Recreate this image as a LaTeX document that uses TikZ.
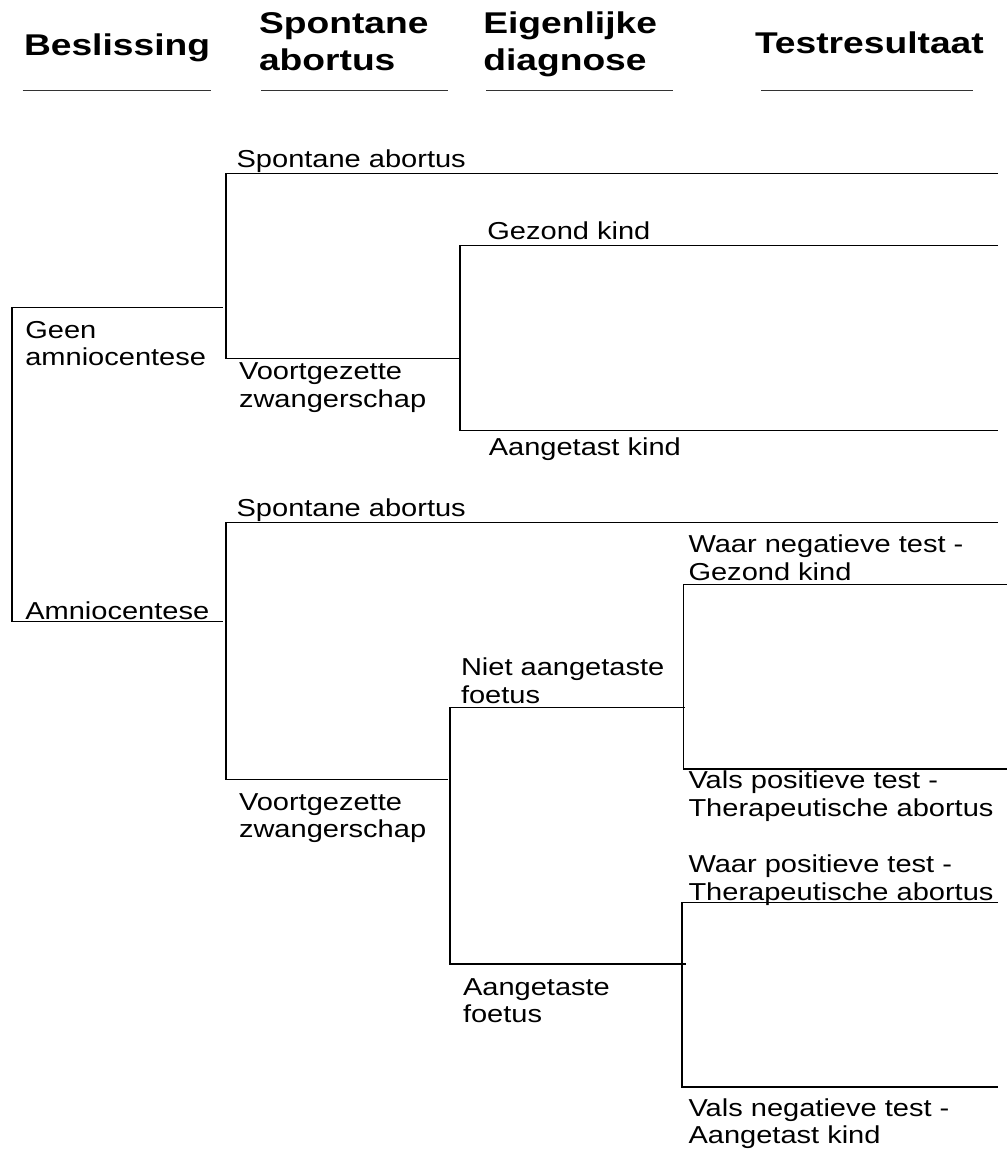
\documentclass[tikz,border=0pt]{standalone}
\usepackage{fontspec}
\newfontfamily\bodyfont[FakeStretch=1.185]{Liberation Sans}
\newfontfamily\headfont[FakeStretch=1.24]{Liberation Sans}
\newcommand\twoline[2]{\vtop{\hbox{#1}\hbox{#2}}}
\begin{document}
\begin{tikzpicture}[x=1pt,y=-1pt,
  txt/.style={anchor=base west, inner sep=0pt, outer sep=0pt, font=\bodyfont\fontsize{24.5}{27.8}\selectfont},
  head/.style={anchor=base west, inner sep=0pt, outer sep=0pt, font=\headfont\bfseries\fontsize{30}{37.4}\selectfont},
  branch/.style={line width=1.1pt, black},
  rule/.style={line width=1.1pt, black!80}]
\useasboundingbox[fill=white] (0,0) rectangle (1007,1149);

% headers
\node[head] (hBes) at (24,55) {Beslissing};
\node[head] (hSpo) at (259,33.3) {\twoline{Spontane}{abortus}};
\node[head] (hEig) at (483.3,33.3) {\twoline{Eigenlijke}{diagnose}};
\node[head] (hTes) at (755,53.3) {Testresultaat};
\coordinate (u1a) at (22.7,90.7); \coordinate (u1b) at (210.7,90.7);
\coordinate (u2a) at (261,90.7);  \coordinate (u2b) at (448.3,90.7);
\coordinate (u3a) at (486,90.7);  \coordinate (u3b) at (673,90.7);
\coordinate (u4a) at (761,90.7);  \coordinate (u4b) at (973,90.7);
\draw[rule] (u1a) -- (u1b);
\draw[rule] (u2a) -- (u2b);
\draw[rule] (u3a) -- (u3b);
\draw[rule] (u4a) -- (u4b);

% tree points
\coordinate (rootT) at (12,307.3);   \coordinate (rootB) at (12,621.7);
\coordinate (geenE) at (222.5,307.3); \coordinate (amnE) at (222.5,621.7);

\coordinate (c1T) at (226,173.7); \coordinate (c1B) at (226,358.7);
\coordinate (c1Te) at (998,173.7); \coordinate (c1Be) at (460,358.7);

\coordinate (c2T) at (460,245.7); \coordinate (c2B) at (460,430.3);
\coordinate (c2Te) at (998,245.7); \coordinate (c2Be) at (998,430.3);

\coordinate (c3T) at (226,522.5); \coordinate (c3B) at (226,779.3);
\coordinate (c3Te) at (998,522.5); \coordinate (c3Be) at (448,779.3);

\coordinate (c4T) at (450,707.7); \coordinate (c4B) at (450,964);
\coordinate (c4Te) at (684.5,707.7); \coordinate (c4Be) at (685.5,964);

\coordinate (c5T) at (683.3,584.3); \coordinate (c5B) at (683.3,769);
\coordinate (c5Te) at (1007,584.3); \coordinate (c5Be) at (1007,769);

\coordinate (c6T) at (682,902.7); \coordinate (c6B) at (682,1087);
\coordinate (c6Te) at (998,902.7); \coordinate (c6Be) at (998,1087);

\draw[branch] (geenE) -- (rootT) -- (rootB) -- (amnE);
\draw[branch] (c1Te) -- (c1T) -- (c1B) -- (c1Be);
\draw[branch] (c2Te) -- (c2T) -- (c2B) -- (c2Be);
\draw[branch] (c3Te) -- (c3T) -- (c3B) -- (c3Be);
\draw[branch] (c4Te) -- (c4T) -- (c4B) -- (c4Be);
\draw[branch] (c5Te) -- (c5T) -- (c5B) -- (c5Be);
\draw[branch] (c6Te) -- (c6T) -- (c6B) -- (c6Be);

% labels
\node[txt] (tGeen) at (25.3,338) {\twoline{Geen}{amniocentese}};
\node[txt] (tAmn) at (25.3,619.3) {Amniocentese};
\node[txt] (tSp1) at (236.6,167.7) {Spontane abortus};
\node[txt] (tVz1) at (239,379.3) {\twoline{Voortgezette}{zwangerschap}};
\node[txt] (tGez) at (487.4,239) {Gezond kind};
\node[txt] (tAan) at (488.8,455) {Aangetast kind};
\node[txt] (tSp2) at (236.6,516) {Spontane abortus};
\node[txt] (tVz2) at (239,810) {\twoline{Voortgezette}{zwangerschap}};
\node[txt] (tNiet) at (461,675.7) {\twoline{Niet aangetaste}{foetus}};
\node[txt] (tAft) at (463,995) {\twoline{Aangetaste}{foetus}};
\node[txt] (tWn) at (688.5,552.7) {\twoline{Waar negatieve test -}{Gezond kind}};
\node[txt] (tVp) at (688.5,788.5) {\twoline{Vals positieve test -}{Therapeutische abortus}};
\node[txt] (tWp) at (688.5,872.7) {\twoline{Waar positieve test -}{Therapeutische abortus}};
\node[txt] (tVn) at (688.5,1116) {\twoline{Vals negatieve test -}{Aangetast kind}};
\end{tikzpicture}
\end{document}
